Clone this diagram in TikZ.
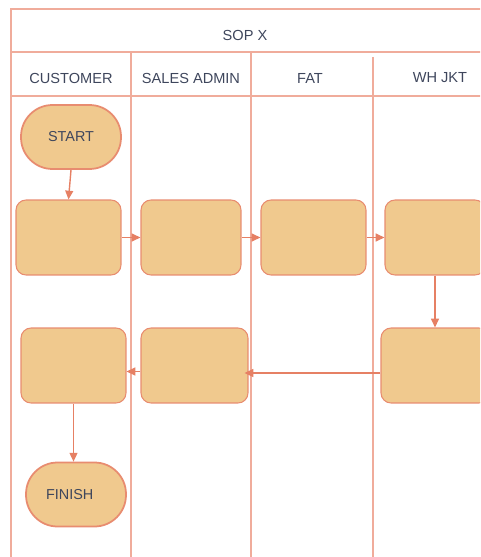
\documentclass[tikz,border=0pt]{standalone}
\usepackage{fontspec}
\setmainfont{Liberation Sans}
\usepackage{tikz}
\usetikzlibrary{arrows.meta,positioning}
\definecolor{lanecol}{RGB}{240,172,155}
\definecolor{boxfill}{RGB}{240,201,142}
\definecolor{boxdraw}{RGB}{232,140,112}
\definecolor{arrcol}{RGB}{230,128,100}
\definecolor{txtcol}{RGB}{62,70,92}
\tikzset{
  laneline/.style={draw=lanecol,line width=0.7pt},
  lanelabel/.style={text=txtcol,font=\fontsize{8.3}{10}\selectfont,inner sep=0pt},
  stepbox/.style={rectangle,rounded corners=0.2cm,fill=boxfill,draw=boxdraw,line width=0.6pt,
    minimum width=2.1cm,minimum height=1.5cm},
  termnode/.style={rectangle,rounded corners=0.63cm,fill=boxfill,draw=boxdraw,line width=1pt,
    minimum width=2.0cm,minimum height=1.28cm,text=txtcol,font=\fontsize{8.2}{10}\selectfont},
  arr/.style={->,>={Triangle[length=5pt,width=4.5pt]},line width=0.8pt,color=arrcol}
}

\begin{document}
\begin{tikzpicture}[x=0.02cm,y=-0.02cm]
  \useasboundingbox (0,0) rectangle (480,557);
  \clip (0,0) rectangle (480,557);

  \draw[laneline] (11,557) -- (11,9) -- (482,9);
  \draw[laneline] (11,52) -- (482,52);
  \draw[laneline] (11,96) -- (482,96);
  \draw[laneline] (131,52) -- (131,557);
  \draw[laneline] (251,52) -- (251,557);
  \draw[laneline] (373,57) -- (373,557);

  \node[lanelabel] (title) at (245,35) {SOP X};
  \node[lanelabel] (hcust) at (71,78) {CUSTOMER};
  \node[lanelabel] (hsales) at (191,78) {SALES ADMIN};
  \node[lanelabel] (hfat) at (310,78) {FAT};
  \node[lanelabel] (hwh) at (440,78) {WH JKT};

  \node[termnode] (start) at (71,137) {START};
  \node[stepbox] (cust1) at (68.5,237.5) {};
  \node[stepbox,minimum width=2.0cm] (sales1) at (191,237.5) {};
  \node[stepbox] (fat1) at (313.5,237.5) {};
  \node[stepbox,minimum width=2.0cm] (whjkt1) at (435,237.5) {};
  \node[stepbox,minimum width=2.16cm] (whjkt2) at (435,365.5) {};
  \node[stepbox,minimum width=2.14cm] (sales2) at (194.5,365.5) {};
  \node[stepbox] (cust2) at (73.5,365.5) {};
  \node[termnode] (finish) at (76,494.5) {FINISH\hspace*{0.25cm}};

  \draw[arr] (start.south) -- (cust1.north);
  \draw[arr] (cust1.east) -- (sales1.west);
  \draw[arr] (sales1.east) -- (fat1.west);
  \draw[arr] (fat1.east) -- (whjkt1.west);
  \draw[arr] (whjkt1.south) -- (whjkt2.north);
  \draw[arr,shorten >=-0.08cm] ([yshift=-0.15cm]whjkt2.west) -- ([yshift=-0.15cm]sales2.east);
  \draw[arr] ([yshift=-0.12cm]sales2.west) -- ([yshift=-0.12cm]cust2.east);
  \draw[arr] (cust2.south) -- (finish.north-|cust2.south);
\end{tikzpicture}
\end{document}
